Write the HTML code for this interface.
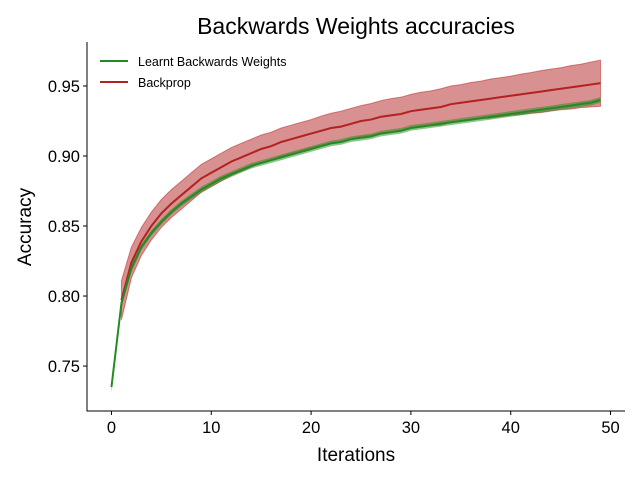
<!DOCTYPE html>
<html><head><meta charset="utf-8"><style>
body{margin:0;background:#fff;font-family:"Liberation Sans",sans-serif}
</style></head><body>
<svg id="chart" width="640" height="480" xmlns="http://www.w3.org/2000/svg" font-family="Liberation Sans, sans-serif">
<rect width="640" height="480" fill="#fff"/>
<text x="356" y="34" font-size="23" text-anchor="middle">Backwards Weights accuracies</text>
<g id="plot"></g>
<text x="356" y="461" font-size="19" text-anchor="middle">Iterations</text>
<text transform="translate(31,227) rotate(-90)" font-size="19" text-anchor="middle">Accuracy</text>
<g>
<line x1="100" y1="61" x2="128" y2="61" stroke="#228b22" stroke-width="2"/>
<text x="138" y="66" font-size="12.5">Learnt Backwards Weights</text>
<line x1="100" y1="82" x2="128" y2="82" stroke="#b22222" stroke-width="2"/>
<text x="138" y="87" font-size="12.5">Backprop</text>
</g>
</svg>
<script>
const learntX = [0,1,2,3,4,5,6,7,8,9,10,11,12,13,14,15,16,17,18,19,20,21,22,23,24,25,26,27,28,29,30,31,32,33,34,35,36,37,38,39,40,41,42,43,44,45,46,47,48,49];
const learntMean = [.735,.795,.820,.835,.845,.853,.860,.866,.871,.876,.880,.884,.887,.890,.893,.895,.897,.899,.901,.903,.905,.907,.909,.910,.912,.913,.914,.916,.917,.918,.920,.921,.922,.923,.924,.925,.926,.927,.928,.929,.930,.931,.932,.933,.934,.935,.936,.937,.938,.940];
const learntStd = [.004,.003,.003,.002,.002,.002,.002,.002,.002,.002,.002,.002,.002,.002,.002,.002,.002,.002,.002,.002,.002,.002,.002,.002,.002,.002,.002,.002,.002,.002,.002,.002,.002,.002,.002,.002,.002,.002,.002,.002,.002,.002,.002,.002,.002,.002,.002,.002,.002,.002];
const backpropX = [1,2,3,4,5,6,7,8,9,10,11,12,13,14,15,16,17,18,19,20,21,22,23,24,25,26,27,28,29,30,31,32,33,34,35,36,37,38,39,40,41,42,43,44,45,46,47,48,49];
const backpropMean = [.797,.824,.839,.850,.859,.866,.872,.878,.884,.888,.892,.896,.899,.902,.905,.907,.910,.912,.914,.916,.918,.920,.921,.923,.925,.926,.928,.929,.930,.932,.933,.934,.935,.937,.938,.939,.940,.941,.942,.943,.944,.945,.946,.947,.948,.949,.950,.951,.952];
const backpropStd = [.014,.011,.010,.010,.010,.010,.010,.010,.010,.010,.010,.010,.010,.010,.010,.010,.010,.010,.010,.010,.0105,.0105,.011,.011,.011,.0115,.0115,.012,.012,.012,.0125,.0125,.013,.013,.013,.0135,.0135,.014,.014,.014,.0145,.0145,.015,.015,.015,.0155,.0155,.016,.0165];
const xTicks = [0,10,20,30,40,50];
const yTicks = [0.75,0.80,0.85,0.90,0.95];
const yTickLabels = ["0.75","0.80","0.85","0.90","0.95"];

const L=87,R=625,T=42,B=411;
const xMin=-2.45,xMax=51.45,yMin=0.7179,yMax=0.9814;
const xs=v=>L+(v-xMin)/(xMax-xMin)*(R-L);
const ys=v=>B-(v-yMin)/(yMax-yMin)*(B-T);
const NS="http://www.w3.org/2000/svg";
const g=document.getElementById('plot');
function mk(t,a){const e=document.createElementNS(NS,t);for(const k in a)e.setAttribute(k,a[k]);g.appendChild(e);return e;}
function band(X,M,S){let up=X.map((x,i)=>xs(x)+','+ys(M[i]+S[i]));let lo=X.map((x,i)=>xs(x)+','+ys(M[i]-S[i])).reverse();return up.concat(lo).join(' ');}
function line(X,M){return X.map((x,i)=>xs(x)+','+ys(M[i])).join(' ');}

let b1=mk('polygon',{points:band(backpropX,backpropMean,backpropStd),fill:'rgba(178,34,34,0.5)',stroke:'rgba(178,34,34,0.5)'});


let b2=mk('polygon',{points:band(learntX,learntMean,learntStd),fill:'rgba(34,139,34,0.5)',stroke:'none'});


let l1=mk('polyline',{points:line(backpropX,backpropMean),fill:'none',stroke:'#b22222','stroke-width':2});


let l2=mk('polyline',{points:line(learntX,learntMean),fill:'none',stroke:'#228b22','stroke-width':2});



let ax=mk('path',{d:`M${L},${T}V${B}H${R}`,fill:'none',stroke:'#000','stroke-width':1});


xTicks.forEach(v=>{
  const t=mk('line',{x1:xs(v),x2:xs(v),y1:B,y2:B+4,stroke:'#000'});
  
  
  const l=mk('text',{x:xs(v),y:B+22,'font-size':16.5,'text-anchor':'middle'});l.textContent=v;
  
  
});
yTicks.forEach((v,i)=>{
  const t=mk('line',{x1:L-4,x2:L,y1:ys(v),y2:ys(v),stroke:'#000'});
  
  
  const l=mk('text',{x:L-7,y:ys(v)+6,'font-size':16.5,'text-anchor':'end'});l.textContent=yTickLabels[i];
  
  
});
</script>
</body></html>
